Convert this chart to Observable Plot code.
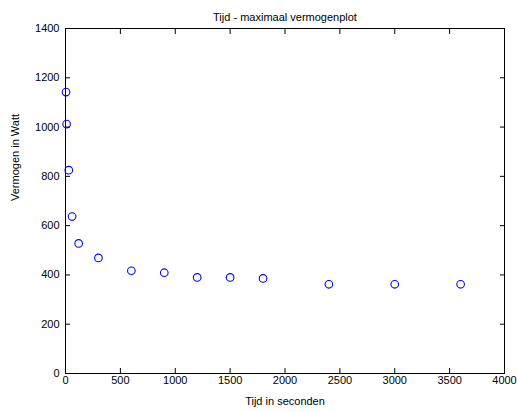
<!DOCTYPE html>
<html>
<head>
<meta charset="utf-8">
<script src="https://cdn.jsdelivr.net/npm/d3@7"></script>
<script src="https://cdn.jsdelivr.net/npm/@observablehq/plot@0.6"></script>
<style>
  html, body { margin: 0; padding: 0; background: #fff; }
  #chart svg { display: block; }
</style>
</head>
<body>
<div id="chart"></div>
<script>
const titleText = "Tijd - maximaal vermogenplot";
const xLabel = "Tijd in seconden";
const yLabel = "Vermogen in Watt";

const times = [5, 10, 30, 60, 120, 300, 600, 900, 1200, 1500, 1800, 2400, 3000, 3600];
const watts = [1142, 1012, 825, 637, 528, 469, 417, 409, 390, 390, 386, 362, 362, 362];

const xTicks = [0, 500, 1000, 1500, 2000, 2500, 3000, 3500, 4000];
const yTicks = [0, 200, 400, 600, 800, 1000, 1200, 1400];

const data = times.map((t, i) => ({t, w: watts[i]}));

const chart = Plot.plot({
  width: 517,
  height: 412,
  marginLeft: 65,
  marginRight: 13,
  marginTop: 28,
  marginBottom: 39,
  style: {fontFamily: "'Liberation Sans', Arial, sans-serif", fontSize: "11px", color: "#000", background: "#fff", overflow: "visible"},
  x: {domain: [0, 4000]},
  y: {domain: [0, 1400]},
  marks: [
    Plot.frame({stroke: "#000", strokeWidth: 1}),
    Plot.axisX(xTicks, {anchor: "bottom", tickSize: -5, tickPadding: 8, label: null, tickFormat: d => String(d)}),
    Plot.axisX(xTicks, {anchor: "top", tickSize: -5, tickFormat: () => "", label: null}),
    Plot.axisY(yTicks, {anchor: "left", tickSize: -5, tickPadding: 11, label: null, tickFormat: d => String(d)}),
    Plot.axisY(yTicks, {anchor: "right", tickSize: -5, tickFormat: () => "", label: null}),
    Plot.dot(data, {x: "t", y: "w", r: 3.8, stroke: "#0000ff", strokeWidth: 1.1, fill: "none"}),
    Plot.text([titleText], {text: d => d, frameAnchor: "top", dy: -15, fontSize: 11, fill: "#000"}),
    Plot.text([xLabel], {text: d => d, frameAnchor: "bottom", dy: 31, fontSize: 11, fill: "#000"}),
    Plot.text([yLabel], {text: d => d, frameAnchor: "left", dx: -50, rotate: -90, fontSize: 11, fill: "#000"})
  ]
});
document.getElementById("chart").appendChild(chart);
</script>
</body>
</html>
